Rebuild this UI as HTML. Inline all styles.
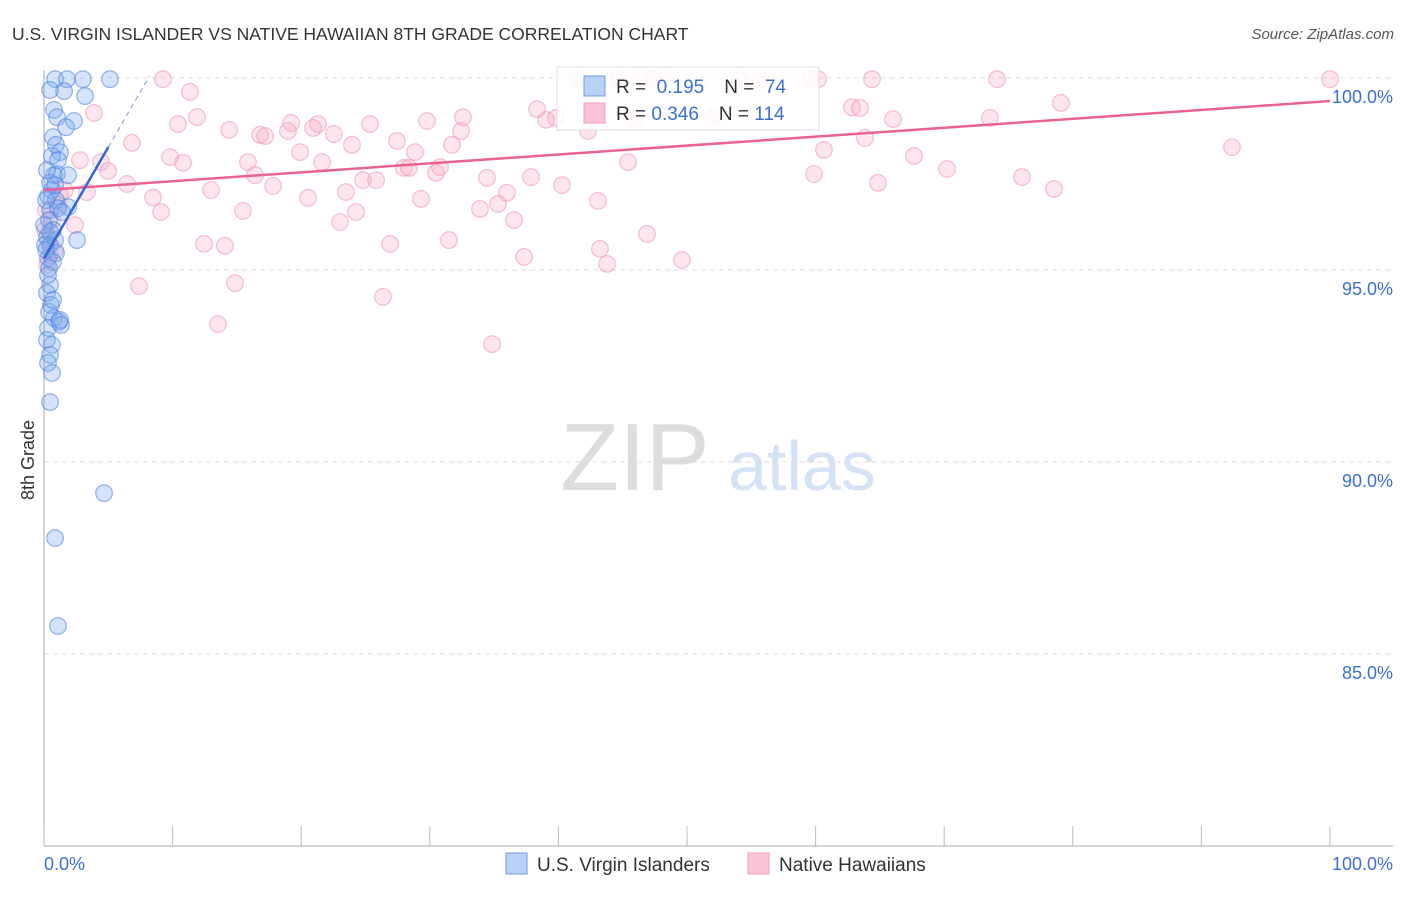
<!DOCTYPE html>
<html><head><meta charset="utf-8"><style>
body{margin:0;background:#fff;font-family:"Liberation Sans",sans-serif}
svg text{font-family:"Liberation Sans",sans-serif}
</style></head><body>
<svg id="chart" width="1406" height="892" xmlns="http://www.w3.org/2000/svg">
<text x="12" y="40" font-size="17.5" fill="#333">U.S. VIRGIN ISLANDER VS NATIVE HAWAIIAN 8TH GRADE CORRELATION CHART</text>
<text x="1394" y="39" font-size="15" fill="#555" text-anchor="end" font-style="italic">Source: ZipAtlas.com</text>
<text transform="translate(34,460) rotate(-90)" font-size="18" fill="#333" text-anchor="middle">8th Grade</text>
<g><text x="635" y="490" font-size="96" fill="#ddd" font-family="Liberation Serif,serif" text-anchor="middle">ZIP</text><text x="802" y="490" font-size="70" fill="#d3e2f5" text-anchor="middle">atlas</text></g>
<g id="grid"></g><g id="axes"></g><g id="marks"></g>
<g>
<rect x="557" y="67" width="262" height="63" fill="#fff" fill-opacity="0.85" stroke="#ddd"/>
<rect x="584" y="76" width="21" height="20" fill="#b9d1f5" stroke="#6f9be0"/>
<rect x="584" y="103" width="21" height="20" fill="#f9c3d3" stroke="#f0a0bb"/>
<text x="616" y="93" font-size="19" fill="#333">R = <tspan fill="#3b6fd4">&#160;0.195</tspan><tspan dx="20">N = </tspan><tspan fill="#3b6fd4">&#160;74</tspan></text>
<text x="616" y="120" font-size="19" fill="#333">R = <tspan fill="#3b6fd4">0.346</tspan><tspan dx="20">N = </tspan><tspan fill="#3b6fd4">114</tspan></text>
</g>
<g>
<rect x="506" y="853" width="21" height="21" fill="#b9d1f5" stroke="#6f9be0"/>
<text x="537" y="871" font-size="19" fill="#333">U.S. Virgin Islanders</text>
<rect x="748" y="853" width="21" height="21" fill="#f9c3d3" stroke="#f0a0bb"/>
<text x="779" y="871" font-size="19" fill="#333">Native Hawaiians</text>
</g>
</svg>
<script>
const yTicks=[100,95,90,85];
const yTickLabels=["100.0%","95.0%","90.0%","85.0%"];
const xTicks=[0,10,20,30,40,50,60,70,80,90,100];
const pinkX=[9.25,11.35,3.89,6.84,10.42,11.9,14.39,9.8,10.81,4.43,4.98,6.45,3.34,8.48,9.1,12.99,15.86,16.41,17.81,15.47,12.44,14.07,7.39,14.85,13.53,16.8,17.19,19.21,18.97,19.91,20.92,21.31,22.55,21.62,23.95,20.53,23.48,24.81,25.82,24.26,23.02,25.35,26.91,26.36,27.45,27.99,28.38,28.85,29.32,29.78,30.48,30.79,31.73,32.43,32.58,31.49,34.45,33.9,35.3,36,36.55,37.87,37.33,34.84,38.34,39.04,39.81,40.28,41.52,42.3,43.08,43.23,43.78,45.41,46.89,49.61,44.63,46.35,47.36,45.88,48.29,52.02,54.12,55.68,59.56,60.19,60.65,59.88,62.83,63.45,63.84,64.39,64.85,66.02,67.65,70.22,73.56,74.11,76.05,78.54,79.08,92.38,100,0.31,0.47,0.86,1.63,2.41,2.8,1.24,0.62,0.23,1.09,0.16,0.08];
const pinkY=[99.97,99.64,99.09,98.31,98.8,98.98,98.65,97.94,97.79,97.81,97.58,97.24,97.03,96.89,96.51,97.08,97.81,97.47,97.19,96.54,95.68,95.63,94.58,94.66,93.59,98.52,98.49,98.83,98.62,98.07,98.7,98.8,98.54,97.81,98.26,96.88,97.03,97.34,97.34,96.51,96.25,98.8,95.68,94.3,98.36,97.66,97.66,98.07,96.85,98.88,97.53,97.68,98.26,98.62,98.98,95.78,97.4,96.59,96.72,97.01,96.3,97.42,95.34,93.07,99.19,98.91,98.96,97.21,99.97,98.62,96.8,95.55,95.16,97.81,95.94,95.26,99.97,99.97,99.97,98.91,99.95,98.98,99.95,99.95,99.97,99.97,98.13,97.5,99.24,99.22,98.44,99.97,97.27,98.93,97.97,97.63,98.96,99.97,97.42,97.11,99.35,98.2,99.97,95.78,95.39,95.52,97.08,96.17,97.86,96.95,96.3,95.13,96.69,96.56,96.04];
const blueX=[0.86,1.79,3.03,5.13,0.47,1.56,3.19,0.78,1.01,2.33,1.71,0.7,0.93,1.24,0.62,0.78,1.01,1.87,0.47,0.62,0.31,0.93,1.87,0.47,1.09,0.39,0.7,0.23,0.86,2.57,0.47,0.93,0.31,0.7,0.39,0.47,0.23,0.54,0.39,0.78,1.17,1.32,0.31,0.23,0.62,0.47,0.31,0.62,0.47,4.67,0.86,1.09,0.16,0.23,0.08,0.16,0.31,0.7,0.86,1.24,0,0.47,1.4,1.09];
const blueY=[99.97,99.97,99.97,99.97,99.69,99.66,99.53,99.17,98.98,98.88,98.72,98.46,98.26,98.07,97.97,97.47,97.5,97.47,97.27,97.08,96.93,96.82,96.64,96.56,96.61,96.3,96.04,95.86,95.78,95.78,95.65,95.44,95.31,95.21,95.05,94.61,94.4,94.09,93.91,93.75,93.65,93.57,93.49,93.18,93.05,92.79,92.58,92.32,91.56,89.19,88.02,85.73,96.82,97.6,95.65,95.52,94.87,94.22,97.21,93.7,96.17,95.99,96.51,97.86];
const pinkTrend=[97.08,99.4];
const blueTrend=[95.3,98.2,100.05];
const NS="http://www.w3.org/2000/svg";
const X=v=>44+v*12.86, Y=v=>846-(v-80)*38.4;
function mk(tag,attrs,parent){const e=document.createElementNS(NS,tag);for(const k in attrs)e.setAttribute(k,attrs[k]);parent.appendChild(e);return e;}
const grid=document.getElementById('grid'),axes=document.getElementById('axes'),marks=document.getElementById('marks');
yTicks.forEach((t,i)=>{
 const l=mk('line',{x1:44,x2:1393,y1:Y(t),y2:Y(t),stroke:'#ddd','stroke-dasharray':'5,4'},grid);
 
 
 const tx=mk('text',{x:1393,y:Y(t)+25,'font-size':18,fill:'#3b6fd4','text-anchor':'end'},axes);
 tx.textContent=yTickLabels[i];
 
 
});
const ax=mk('line',{x1:44,x2:44,y1:70,y2:846,stroke:'#aaa'},axes);


const bx=mk('line',{x1:44,x2:1393,y1:846,y2:846,stroke:'#aaa'},axes);


xTicks.forEach(t=>{
 const l=mk('line',{x1:X(t),x2:X(t),y1:826,y2:846,stroke:'#bbb'},axes);
 
 
});
const xl=mk('text',{x:44,y:870,'font-size':18,fill:'#3b6fd4'},axes);xl.textContent='0.0%';


const xr=mk('text',{x:1393,y:870,'font-size':18,fill:'#3b6fd4','text-anchor':'end'},axes);xr.textContent='100.0%';


pinkX.forEach((v,i)=>{
 const c=mk('circle',{cx:X(v),cy:Y(pinkY[i]),r:8.3,fill:'rgba(246,170,196,0.3)',stroke:'rgba(238,150,178,0.6)','stroke-width':1.2},marks);
 
 
});
blueX.forEach((v,i)=>{
 const c=mk('circle',{cx:X(v),cy:Y(blueY[i]),r:8.3,fill:'rgba(120,168,238,0.32)',stroke:'rgba(80,130,220,0.6)','stroke-width':1.2},marks);
 
 
});
const pl=mk('line',{x1:X(0),y1:Y(pinkTrend[0]),x2:X(100),y2:Y(pinkTrend[1]),stroke:'#e8638f','stroke-width':2.5},marks);


const bl=mk('line',{x1:X(0),y1:Y(blueTrend[0]),x2:X(5),y2:Y(blueTrend[1]),stroke:'#3367d6','stroke-width':2.5},marks);


const bd=mk('line',{x1:X(5),y1:Y(blueTrend[1]),x2:X(8.2),y2:Y(blueTrend[2]),stroke:'#6f9be0','stroke-width':1,'stroke-dasharray':'5,4'},marks);


</script>
</body></html>
